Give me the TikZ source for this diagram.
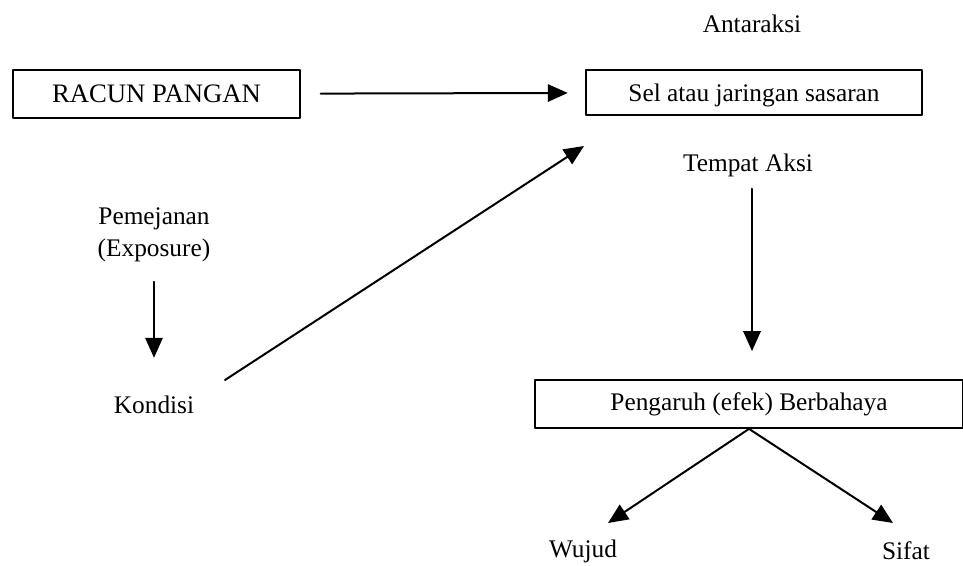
\documentclass[tikz,border=0pt]{standalone}
\usepackage{fontspec}
\setmainfont{Liberation Serif}
\usetikzlibrary{arrows.meta,positioning,calc}

\begin{document}
\begin{tikzpicture}[x=0.75pt,y=-0.75pt,line cap=round,line join=round,
  >={Triangle[length=15pt,width=13pt]},
  font=\fontsize{19}{23}\selectfont,
  kotak/.style={draw,line width=1.3pt,inner sep=0pt},
  teks/.style={inner sep=0pt},
  panah/.style={->,line width=1.5pt}]
\useasboundingbox (0,0) rectangle (963,566);
% kotak-kotak
\node[kotak,minimum width=215pt,minimum height=36pt,font=\fontsize{20}{24}\selectfont] (racun) at (156.5,94) {RACUN PANGAN};
\node[kotak,minimum width=252pt,minimum height=34pt,text depth=0pt] (sel) at (754,92.5) {Sel atau jaringan sasaran};
\node[kotak,minimum width=321pt,minimum height=36pt] (pengaruh) at (749,404) {Pengaruh (efek) Berbahaya};
% teks
\node[teks] (antaraksi) at (752,24) {Antaraksi};
\node[teks] (tempat) at (748,165) {Tempat Aksi};
\node[teks] (pemejanan) at (154,219) {Pemejanan};
\node[teks] (exposure) at (154,250) {(Exposure)};
\node[teks] (kondisi) at (154,405) {Kondisi};
\node[teks] (wujud) at (583,551) {Wujud};
\node[teks] (sifat) at (906,551) {Sifat};
% ujung panah
\coordinate (s1) at (584,146);
\coordinate (k1) at (225,380);
\coordinate (w1) at (608,523);
\coordinate (f1) at (893,523);
% panah
\draw[panah,shorten <=15pt,shorten >=13pt] (racun) -- (sel);
\draw[panah] (k1) -- (s1);
\draw[panah] ($(exposure.south)+(0,20)$) -- ($(kondisi.north)+(0,-38)$);
\draw[panah] ($(tempat.south)+(4,12)$) -- ($(pengaruh.north)+(3,-28)$);
\draw[panah] (pengaruh.south) -- (w1);
\draw[panah] (pengaruh.south) -- (f1);
\end{tikzpicture}
\end{document}
